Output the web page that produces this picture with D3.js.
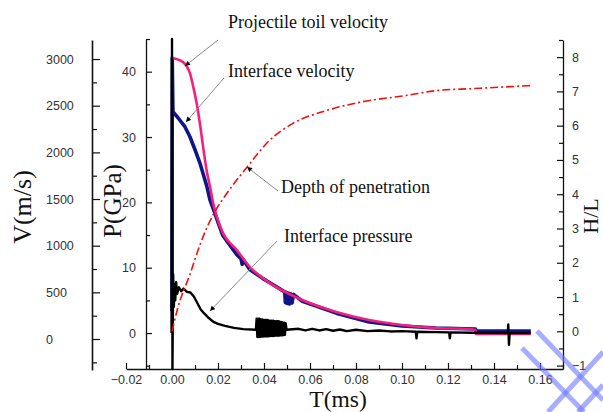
<!DOCTYPE html>
<html><head><meta charset="utf-8">
<script src="https://cdn.jsdelivr.net/npm/d3@7"></script>
<style>
body{margin:0;background:#fff;}
text{font-family:"Liberation Sans",Arial,sans-serif;}
.serif{font-family:"Liberation Serif","Times New Roman",serif;fill:#111;}
</style></head>
<body><svg id="c" width="603" height="412"></svg>
<script>
// ---------- data ----------
const xTicks = [-0.02,0,0.02,0.04,0.06,0.08,0.10,0.12,0.14,0.16];
const vTicks = [0,500,1000,1500,2000,2500,3000];
const pTicks = [0,10,20,30,40];
const hTicks = [-1,0,1,2,3,4,5,6,7,8];

// Projectile tail velocity (m/s)
const tailVel = [[0,3012],[0.0027,2994],[0.0049,2965],[0.0064,2922],[0.0078,2850],[0.0092,2707],[0.0107,2529],
 [0.0121,2314],[0.0135,2064],[0.0150,1814],[0.0165,1635],[0.0179,1456],[0.0194,1313],[0.0221,1137],[0.0281,955],
 [0.0338,773],[0.0424,601],[0.0567,418],[0.0714,290],[0.0857,204],[0.1000,150],[0.1147,118],[0.1290,107],
 [0.1320,97],[0.1321,54],[0.1560,54]];
// Interface velocity (m/s)
const ifaceVel = [[0,300],[0.0001,3010],[0.0004,2435],[0.0026,2371],[0.0056,2275],[0.0078,2167],[0.0100,2028],
 [0.0121,1888],[0.0134,1781],[0.0152,1631],[0.0165,1491],[0.0186,1352],[0.0200,1250],[0.0221,1110],[0.0281,905],
 [0.0300,860],[0.0305,800],[0.0310,850],[0.0338,745],[0.0370,690],[0.0394,650],[0.0420,610],
 [0.0490,505],[0.0493,390],[0.0497,500],[0.0502,380],[0.0506,492],[0.0511,375],[0.0516,485],[0.0522,385],
 [0.0528,478],[0.0567,405],[0.0714,277],[0.0857,182],[0.1000,139],[0.1147,118],[0.1320,107],
 [0.1321,86],[0.1560,86]];
// Interface pressure (GPa)
const ifacePres = [[-0.0002,0],[0,45],[0.0002,-5.5],[0.0005,9],[0.0008,4],[0.0011,7.5],[0.0014,5],[0.0018,7.8],
 [0.0022,6],[0.003,7.0],[0.004,6.4],[0.005,6.8],[0.0065,6.3],[0.008,6.2],[0.0095,5.6],[0.011,4.6],[0.0125,3.6],
 [0.014,3.0],[0.016,2.3],[0.018,1.7],[0.020,1.4],[0.023,1.1],[0.027,0.8],[0.031,0.6],[0.0365,0.5],
 [0.0368,2.2],[0.0371,-0.6],[0.0374,2.2],[0.0377,-0.6],[0.0380,2.2],[0.0383,-0.6],[0.0386,2.1],[0.0389,-0.55],
 [0.0392,2.1],[0.0395,-0.55],[0.0398,2.0],[0.0401,-0.5],[0.0404,2.0],[0.0407,-0.5],[0.0410,2.0],[0.0413,-0.5],
 [0.0416,2.0],[0.0419,-0.5],[0.0422,1.9],[0.0425,-0.45],[0.0428,1.9],[0.0431,-0.45],[0.0434,1.9],[0.0437,-0.45],
 [0.0440,1.9],[0.0443,-0.45],[0.0446,1.8],[0.0449,-0.4],[0.0452,1.8],[0.0455,-0.4],[0.0458,1.8],[0.0461,-0.4],
 [0.0464,1.8],[0.0467,-0.4],[0.0470,1.7],[0.0473,-0.35],[0.0476,1.7],[0.0479,-0.35],[0.0482,1.6],[0.0485,-0.3],
 [0.0488,1.6],[0.0491,-0.3],[0.0494,1.5],[0.0498,0.5],
 [0.055,0.65],[0.058,0.4],[0.061,0.65],[0.064,0.4],[0.067,0.6],[0.070,0.35],[0.073,0.55],[0.076,0.3],
 [0.080,0.5],[0.085,0.3],[0.090,0.4],[0.095,0.25],[0.100,0.3],[0.106,0.2],[0.1063,-0.8],[0.1066,0.2],
 [0.115,0.15],[0.1205,0.1],[0.1208,-0.8],[0.1211,0.1],[0.130,0.05],[0.146,0],[0.1462,1.3],[0.1465,-1.8],
 [0.1468,0],[0.156,0]];
// Depth of penetration (H/L)
const depth = [[0,0],[0.0026,0.70],[0.0078,1.66],[0.0121,2.51],[0.0152,3.03],[0.0195,3.59],[0.0238,4.02],
 [0.0325,4.78],[0.0424,5.57],[0.0524,6.06],[0.0671,6.44],[0.0814,6.68],[0.1017,6.88],[0.1160,7.03],
 [0.1303,7.08],[0.1558,7.17]];

// ---------- layout ----------
const svg = d3.select("#c");
const x = d3.scaleLinear().domain([-0.02,0.17]).range([126,563]);
const yV = d3.scaleLinear().domain([-332,3204]).range([370,40]);
const yP = d3.scaleLinear().domain([-5.5,45]).range([369,39]);
const yH = d3.scaleLinear().domain([-1.1,8.5]).range([369,40]);

function styleAxis(g){
  g.selectAll("path.domain").attr("stroke","#111").attr("stroke-width",1.3);
  g.selectAll(".tick line").attr("stroke","#111").attr("stroke-width",1.2);
  g.selectAll(".tick text").attr("fill","#333").style("font-size","12.5px").style("font-family","'Liberation Sans',Arial,sans-serif");
}
const range = (a,b,s)=>d3.range(a,b+s/2,s);

// X axis
let gx = svg.append("g").attr("transform","translate(0,369)")
  .call(d3.axisBottom(x).tickValues(xTicks).tickFormat(d3.format(".2f")).tickSizeInner(-6).tickSizeOuter(0).tickPadding(6));
styleAxis(gx);
let gxm = svg.append("g").attr("transform","translate(0,369)")
  .call(d3.axisBottom(x).tickValues(range(-0.01,0.17,0.02)).tickFormat("").tickSizeInner(-4).tickSizeOuter(0));
styleAxis(gxm); gxm.select("path.domain").remove();

// V axis
let gv = svg.append("g").attr("transform","translate(92,0)")
  .call(d3.axisLeft(yV).tickValues(vTicks).tickFormat(d3.format("d")).tickSizeInner(-8).tickSizeOuter(0).tickPadding(0));
styleAxis(gv);
gv.selectAll(".tick text").attr("x",-46).attr("text-anchor","start");
gv.select("path.domain").attr("stroke-width",1.6);
let gvm = svg.append("g").attr("transform","translate(92,0)")
  .call(d3.axisLeft(yV).tickValues(range(-250,2750,500)).tickFormat("").tickSizeInner(-5).tickSizeOuter(0));
styleAxis(gvm); gvm.select("path.domain").remove();

// P axis
let gp = svg.append("g").attr("transform","translate(146,0)")
  .call(d3.axisLeft(yP).tickValues(pTicks).tickSizeInner(-6).tickSizeOuter(0).tickPadding(10));
styleAxis(gp);
let gpm = svg.append("g").attr("transform","translate(146,0)")
  .call(d3.axisLeft(yP).tickValues(range(-5,45,10)).tickFormat("").tickSizeInner(-4).tickSizeOuter(0));
styleAxis(gpm); gpm.select("path.domain").remove();

// H/L axis
let gh = svg.append("g").attr("transform","translate(563,0)")
  .call(d3.axisRight(yH).tickValues(hTicks).tickSizeInner(-6).tickSizeOuter(0).tickPadding(9));
styleAxis(gh);
let ghm = svg.append("g").attr("transform","translate(563,0)")
  .call(d3.axisRight(yH).tickValues(range(-0.5,8.5,1)).tickFormat("").tickSizeInner(-4).tickSizeOuter(0));
styleAxis(ghm); ghm.select("path.domain").remove();

// ---------- series ----------
const lineV = d3.line().x(d=>x(d[0])).y(d=>yV(d[1]));
const lineP = d3.line().x(d=>x(d[0])).y(d=>yP(d[1]));
const lineH = d3.line().x(d=>x(d[0])).y(d=>yH(d[1])).curve(d3.curveMonotoneX);

svg.append("path").attr("d",lineV(ifaceVel)).attr("fill","none").attr("stroke","#10168a").attr("stroke-width",3.6).attr("stroke-linejoin","round");
svg.append("path").attr("d",d3.line().x(d=>x(d[0])).y(d=>yV(d[1])).curve(d3.curveMonotoneX)(tailVel))
  .attr("fill","none").attr("stroke","#f5207e").attr("stroke-width",2.6);
svg.append("path").attr("d",lineP(ifacePres)).attr("fill","none").attr("stroke","#000").attr("stroke-width",2.4).attr("stroke-linejoin","round");
svg.append("path").attr("d",lineH(depth)).attr("fill","none").attr("stroke","#f01010").attr("stroke-width",1.6)
  .attr("stroke-dasharray","8,3,2,3");

// ---------- annotations ----------
svg.append("defs").append("marker").attr("id","ar").attr("viewBox","0 0 10 10").attr("refX",10).attr("refY",5)
  .attr("markerWidth",6).attr("markerHeight",5).attr("markerUnits","userSpaceOnUse").attr("orient","auto")
  .append("path").attr("d","M0,0L10,5L0,10z").attr("fill","#000");
const notes = [
 {t:"Projectile toil velocity", tx:228, ty:28, l:[218,40,185,66]},
 {t:"Interface velocity", tx:228, ty:77, l:[224,78,186,122]},
 {t:"Depth of penetration", tx:281, ty:193, l:[278,191,247,167]},
 {t:"Interface pressure", tx:284, ty:242, l:[277,241,210,311]}
];
notes.forEach(n=>{
  svg.append("line").attr("x1",n.l[0]).attr("y1",n.l[1]).attr("x2",n.l[2]).attr("y2",n.l[3])
    .attr("stroke","#8a8a8a").attr("stroke-width",1).attr("marker-end","url(#ar)");
  svg.append("text").attr("class","serif").attr("x",n.tx).attr("y",n.ty).style("font-size","18px").text(n.t);
});

// axis titles
svg.append("text").attr("class","serif").attr("transform","translate(31,207) rotate(-90)").attr("text-anchor","middle").style("font-size","26px").text("V(m/s)");
svg.append("text").attr("class","serif").attr("transform","translate(121,201) rotate(-90)").attr("text-anchor","middle").style("font-size","25px").text("P(GPa)");
svg.append("text").attr("class","serif").attr("transform","translate(598,216) rotate(-90)").attr("text-anchor","middle").style("font-size","22px").text("H/L");
svg.append("text").attr("class","serif").attr("x",338).attr("y",407).attr("text-anchor","middle").style("font-size","23.5px").text("T(ms)");

// watermark strokes
const wm = svg.append("g").attr("stroke","rgba(110,120,255,0.6)").attr("stroke-width",5).attr("fill","none");
[[537,331,603,400],[522,348,584,412],[548,412,603,352],[578,412,603,385]].forEach(s=>
  wm.append("line").attr("x1",s[0]).attr("y1",s[1]).attr("x2",s[2]).attr("y2",s[3]));
</script></body></html>
